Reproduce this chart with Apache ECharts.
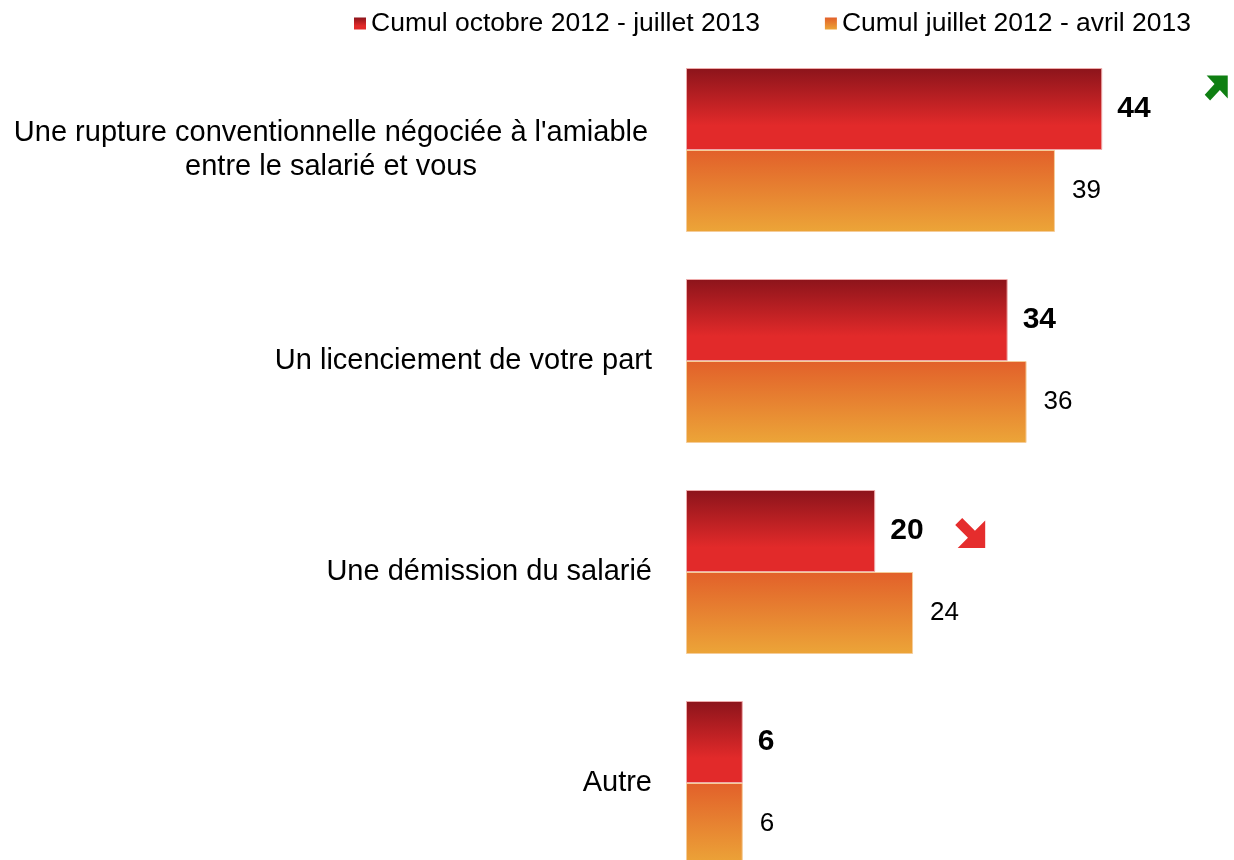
<!DOCTYPE html>
<html>
<head>
<meta charset="utf-8">
<script src="https://cdn.jsdelivr.net/npm/echarts@6/dist/echarts.min.js"></script>
<style>
  html, body { margin: 0; padding: 0; background: #fff; }
  #chart { width: 1234px; height: 860px; }
</style>
</head>
<body>
<div id="chart"></div>
<script>
// données
const categories = [
  "Une rupture conventionnelle négociée à l'amiable\nentre le salarié et vous",
  'Un licenciement de votre part',
  'Une démission du salarié',
  'Autre'
];
const seriesNames = ['Cumul octobre 2012 - juillet 2013', 'Cumul juillet 2012 - avril 2013'];
const current = [44, 34, 20, 6];
const previous = [39, 36, 24, 6];
const trend = ['up', '', 'down', ''];

const FONT = "'Liberation Sans', Arial, sans-serif";

const arrowUp = 'path://M2,0L24,0L24,22L15.8,13.8L5.6,24L0,18.4L10.2,8.2Z';
const arrowDown = 'path://M2,24L24,24L24,2L15.8,10.2L5.6,0L0,5.6L10.2,15.8Z';

const redGrad = new echarts.graphic.LinearGradient(0, 0, 0, 1, [
  { offset: 0, color: '#8c141b' },
  { offset: 0.7, color: '#e22a2a' },
  { offset: 1, color: '#e22a2a' }
]);
const orangeGrad = new echarts.graphic.LinearGradient(0, 0, 0, 1, [
  { offset: 0, color: '#e2602a' },
  { offset: 1, color: '#eca538' }
]);

// flèches de tendance
const trendData = [];
current.forEach((v, i) => {
  if (trend[i] === 'up') {
    trendData.push({
      value: [v, i],
      symbol: arrowUp,
      symbolSize: [23, 25],
      symbolOffset: [114, -62],
      itemStyle: { color: '#0f7f12', opacity: 1 }
    });
  } else if (trend[i] === 'down') {
    trendData.push({
      value: [v, i],
      symbol: arrowDown,
      symbolSize: [30, 30],
      symbolOffset: [95, -39],
      itemStyle: { color: '#e52d2d', opacity: 1 }
    });
  }
});

const chart = echarts.init(document.getElementById('chart'));

chart.setOption({
  animation: false,
  backgroundColor: '#fff',
  textStyle: { fontFamily: FONT },
  legend: {
    data: seriesNames,
    left: 349,
    top: 5,
    icon: 'rect',
    itemWidth: 12,
    itemHeight: 12,
    itemGap: 65,
    itemStyle: { borderWidth: 0 },
    textStyle: { fontSize: 26.5, color: '#000', fontFamily: FONT }
  },
  grid: {
    left: 686,
    top: 44.5,
    width: 473,
    height: 844,
    outerBoundsMode: 'none'
  },
  xAxis: {
    type: 'value',
    min: 0,
    max: 50,
    show: false
  },
  yAxis: {
    type: 'category',
    data: categories,
    inverse: true,
    axisLine: { show: false },
    axisTick: { show: false },
    axisLabel: {
      margin: 34,
      fontSize: 29,
      color: '#000',
      fontFamily: FONT,
      lineHeight: 34,
      formatter: function (v) {
        if (v.indexOf('\n') < 0) return v;
        return v.split('\n').map(l => '{c|' + l + '}').join('\n');
      },
      rich: {
        c: { width: 642, align: 'center', fontSize: 29, lineHeight: 34, color: '#000', fontFamily: FONT }
      }
    }
  },
  series: [
    {
      name: seriesNames[0],
      type: 'bar',
      data: current,
      barWidth: 82,
      barGap: '0%',
      itemStyle: { color: redGrad, borderColor: '#eeaaaa', borderWidth: 1 },
      label: {
        show: true,
        position: 'right',
        distance: 15,
        fontSize: 30,
        fontWeight: 'bold',
        color: '#000',
        fontFamily: FONT
      }
    },
    {
      name: seriesNames[1],
      type: 'bar',
      data: previous,
      barWidth: 82,
      barGap: '0%',
      itemStyle: { color: orangeGrad, borderColor: '#f5cc99', borderWidth: 1 },
      label: {
        show: true,
        position: 'right',
        distance: 17,
        fontSize: 26,
        color: '#000',
        fontFamily: FONT
      }
    },
    {
      name: 'tendance',
      type: 'scatter',
      data: trendData,
      silent: true,
      z: 5
    }
  ]
});
</script>
</body>
</html>
